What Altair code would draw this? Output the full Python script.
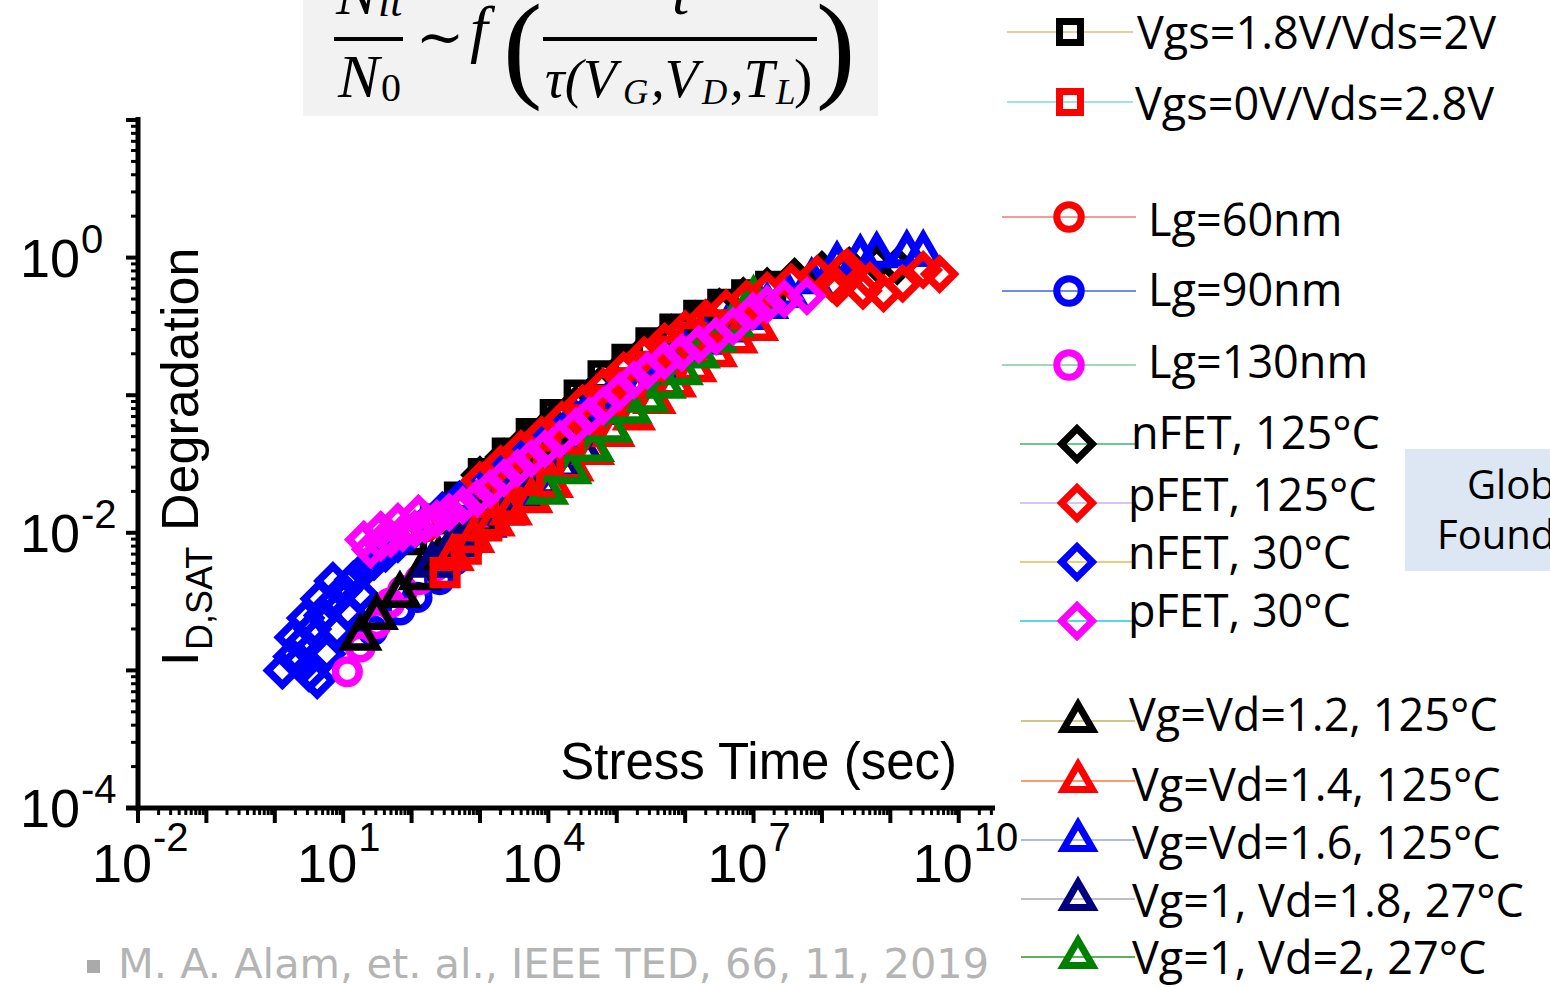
import altair as alt
import pandas as pd

# ---------------- data ----------------
# Stress time (s) and I_D,SAT degradation for every series
lg60_x = [39.8, 79.4, 158, 316, 631, 1260, 2510, 5010, 10000, 20000, 39800, 79400, 158000]
lg60_y = [0.00832, 0.00955, 0.0110, 0.0132, 0.0158, 0.0195, 0.0257, 0.0331, 0.0417, 0.0537, 0.0692, 0.0891, 0.117]

sqb_x = [100, 224, 501, 1120, 2510, 5620, 12600, 28200, 63100, 141000, 316000, 708000, 1580000, 3550000, 7940000, 17800000]
sqb_y = [0.00891, 0.0126, 0.0182, 0.0269, 0.0380, 0.0525, 0.0724, 0.100, 0.138, 0.182, 0.240, 0.302, 0.380, 0.457, 0.537, 0.617]

nfet125_x = [1000, 2240, 5010, 11200, 25100, 56200, 126000, 282000, 631000, 1410000, 3160000, 7080000,
             15800000, 39800000, 1.0e8, 2.51e8, 6.31e8, 1.26e9]
nfet125_y = [0.0263, 0.0355, 0.0479, 0.0631, 0.0851, 0.117, 0.162, 0.219, 0.282, 0.355, 0.437, 0.525,
             0.617, 0.724, 0.813, 0.871, 0.912, 0.871]

tri16_x = [1000, 2000, 3980, 7940, 15800, 31600, 63100, 126000, 251000, 501000, 1.0e6, 2.0e6, 3.98e6,
           7.94e6, 1.58e7, 3.16e7, 7.08e7, 1.66e8, 3.63e8, 6.31e8, 1.74e9, 3.02e9]
tri16_y = [0.0158, 0.0209, 0.0275, 0.0363, 0.0479, 0.0631, 0.0813, 0.105, 0.135, 0.170, 0.214, 0.263, 0.324,
           0.398, 0.479, 0.575, 0.724, 0.955, 1.07, 1.12, 1.15, 1.15]

nfet30_x = [1.29, 1.78, 2.51, 3.55, 5.01, 7.08, 10.0, 14.1, 20.0, 28.2, 41.7, 63.1, 100, 166, 282, 501, 891,
            1580, 3020, 6030, 12000, 25100, 50100, 100000, 200000, 398000,
            2.34, 3.16, 4.17, 5.75, 8.13, 11.5, 17.8, 1.86, 2.82, 4.47, 7.08]
nfet30_y = [0.00100, 0.00126, 0.00158, 0.00200, 0.00251, 0.00309, 0.00380, 0.00457, 0.00537, 0.00617, 0.00708,
            0.00832, 0.0100, 0.0120, 0.0145, 0.0174, 0.0214, 0.0263, 0.0331, 0.0417, 0.0525, 0.0676, 0.0871,
            0.107, 0.132, 0.158,
            0.00117, 0.000955, 0.000851, 0.00132, 0.00195, 0.00263, 0.00355, 0.00174, 0.00240, 0.00331, 0.00447]

lg90_x = [26.9, 67.6, 120, 257, 427, 794, 1580, 3160, 6310, 12600, 25100, 50100, 100000]
lg90_y = [0.00195, 0.00275, 0.00339, 0.00457, 0.00631, 0.00871, 0.0126, 0.0178, 0.0251, 0.0355, 0.0501, 0.0676, 0.0891]

lg130_x = [11.5, 17.8, 30.9, 47.9, 74.1, 132, 224, 398, 708, 1260]
lg130_y = [0.000977, 0.00148, 0.00219, 0.00309, 0.00380, 0.00457, 0.00575, 0.00759, 0.0100, 0.0132]

tri12_x = [17.8, 30.9, 67.6, 132, 251, 501, 1000, 2000, 3980, 7940, 15800, 31600]
tri12_y = [0.00186, 0.00263, 0.00380, 0.00513, 0.00692, 0.00933, 0.0129, 0.0178, 0.0245, 0.0331, 0.0447, 0.0603]

tri18_x = [200, 407, 708, 1200, 2240, 4170, 7940, 15800, 31600]
tri18_y = [0.00631, 0.00891, 0.0105, 0.0123, 0.0151, 0.0191, 0.0245, 0.0324, 0.0427]

tri14_x = [398, 794, 1580, 2820, 5620, 11200, 22400, 44700, 89100, 178000, 355000, 708000, 1410000,
           2820000, 5620000, 11200000]
tri14_y = [0.00708, 0.00955, 0.0126, 0.0151, 0.0186, 0.0240, 0.0316, 0.0417, 0.0562, 0.0741, 0.0977, 0.129,
           0.166, 0.214, 0.269, 0.331]

tri2_x = [9550, 20900, 44700, 83200, 158000, 282000, 501000, 891000, 1580000, 2820000, 5010000, 10000000]
tri2_y = [0.0214, 0.0302, 0.0437, 0.0603, 0.0832, 0.100, 0.126, 0.158, 0.209, 0.275, 0.355, 0.537]

sqr_x = [309, 631, 1260, 2510, 5010, 10000, 20000, 39800, 79400, 158000, 316000, 631000, 1260000, 2510000]
sqr_y = [0.00513, 0.00759, 0.0112, 0.0166, 0.0240, 0.0339, 0.0479, 0.0661, 0.0912, 0.123, 0.162, 0.209, 0.263, 0.324]

pfet125_x = [1000, 2000, 3980, 7940, 15800, 31600, 63100, 126000, 251000, 501000, 1.0e6, 2.0e6, 3.98e6,
             7.94e6, 1.58e7, 3.55e7, 8.51e7, 1.41e8, 1.66e8, 2.04e8, 2.34e8, 3.98e8, 5.01e8, 7.94e8,
             1.51e9, 3.02e9, 5.25e9]
pfet125_y = [0.0240, 0.0316, 0.0407, 0.0513, 0.0661, 0.0871, 0.115, 0.151, 0.195, 0.245, 0.302, 0.363, 0.427,
             0.501, 0.575, 0.661, 0.759, 0.646, 0.603, 0.813, 0.851, 0.575, 0.676, 0.550,
             0.646, 0.813, 0.759]

pfet30_x = [25.1, 35.5, 50.1, 74.1, 112, 158, 234, 355, 562, 912, 1410, 2240, 3550, 5620, 8910, 14800,
            25100, 39800, 63100, 112000, 178000, 282000, 501000, 891000, 1580000, 2820000, 5010000,
            9770000, 15800000, 28200000, 60300000, 20.0, 35.5, 63.1, 126]
pfet30_y = [0.00759, 0.00851, 0.00912, 0.0100, 0.0107, 0.0115, 0.0126, 0.0141, 0.0158, 0.0178, 0.0209, 0.0251,
            0.0295, 0.0347, 0.0407, 0.0479, 0.0589, 0.0708, 0.0832, 0.107, 0.129, 0.151, 0.178, 0.204,
            0.234, 0.269, 0.316, 0.407, 0.457, 0.501, 0.525, 0.00891, 0.0105, 0.0120, 0.0138]

# legend labels
labels = ["Vgs=1.8V/Vds=2V", "Vgs=0V/Vds=2.8V", "Lg=60nm", "Lg=90nm", "Lg=130nm",
          "nFET, 125°C", "pFET, 125°C", "nFET, 30°C", "pFET, 30°C",
          "Vg=Vd=1.2, 125°C", "Vg=Vd=1.4, 125°C", "Vg=Vd=1.6, 125°C",
          "Vg=1, Vd=1.8, 27°C", "Vg=1, Vd=2, 27°C"]

# axis tick values / labels
x_label_vals = [1e-2, 1e1, 1e4, 1e7, 1e10]
x_label_exps = ["-2", "1", "4", "7", "10"]
y_label_vals = [1e0, 1e-2, 1e-4]
y_label_exps = ["0", "-2", "-4"]
x_major = [10.0 ** n for n in range(-2, 11)]
x_minor = [k * 10.0 ** n for n in range(-2, 11) for k in range(2, 10) if k * 10.0 ** n < 3.3e10]
y_major = [10.0 ** n for n in range(-4, 2)]
y_minor = [k * 10.0 ** n for n in range(-4, 1) for k in range(2, 10)]

# ---------------- layout ----------------
OX, OY = 138, 120          # plot origin on the page
W, H = 857, 688
XMAX = 3.39e10

xscale = alt.Scale(type="log", domain=[0.01, XMAX], nice=False)
yscale = alt.Scale(type="log", domain=[1e-4, 10], nice=False)
one = pd.DataFrame({"k": [0]})

layers = []

def txt(s, x, y, size, font="Open Sans", color="black", align="left", baseline="middle",
        angle=0, style="normal"):
    return alt.Chart(one).mark_text(text=s, align=align, baseline=baseline, fontSize=size, font=font,
                                    color=color, angle=angle, fontStyle=style).encode(
        x=alt.value(x - OX), y=alt.value(y - OY))

def hrule(x1, x2, y, color, width):
    return alt.Chart(one).mark_rule(color=color, strokeWidth=width).encode(
        x=alt.value(x1 - OX), x2=alt.value(x2 - OX), y=alt.value(y - OY))

def box(x1, x2, y1, y2, color):
    return alt.Chart(one).mark_rect(color=color).encode(
        x=alt.value(x1 - OX), x2=alt.value(x2 - OX), y=alt.value(y1 - OY), y2=alt.value(y2 - OY))

# formula box (top)
layers.append(box(303, 878, -10, 116, "#f2f2f2"))
SER = "Liberation Serif"
layers += [
    txt("N", 336, 14, 62, SER, baseline="alphabetic", style="italic"),
    txt("it", 378, 16, 44, SER, baseline="alphabetic", style="italic"),
    hrule(334, 403, 39, "black", 4),
    txt("N", 338, 97, 62, SER, baseline="alphabetic", style="italic"),
    txt("0", 381, 101, 40, SER, baseline="alphabetic"),
    txt("~", 440, 40, 58, "DejaVu Serif", align="center"),
    txt("f", 470, 50, 64, SER, baseline="alphabetic", style="italic"),
    txt("(", 503, 86, 118, SER, baseline="alphabetic"),
    txt(")", 816, 86, 118, SER, baseline="alphabetic"),
    txt("t", 672, 14, 62, SER, baseline="alphabetic", style="italic"),
    hrule(543, 817, 39, "black", 4),
    txt("τ(V", 545, 97, 55, SER, baseline="alphabetic", style="italic"),
    txt("G", 623, 104, 35, SER, baseline="alphabetic", style="italic"),
    txt(",V", 651, 97, 55, SER, baseline="alphabetic", style="italic"),
    txt("D", 702, 104, 35, SER, baseline="alphabetic", style="italic"),
    txt(",T", 730, 97, 55, SER, baseline="alphabetic", style="italic"),
    txt("L", 776, 104, 35, SER, baseline="alphabetic", style="italic"),
    txt(")", 794, 97, 55, SER, baseline="alphabetic"),
]

# axis ticks
def tick_layer(vals, axis, length, width):
    df = pd.DataFrame({"v": vals})
    if axis == "y":
        return alt.Chart(df).mark_rule(color="black", strokeWidth=width).encode(
            y=alt.Y("v:Q", scale=yscale, axis=None), x=alt.value(-length), x2=alt.value(0))
    return alt.Chart(df).mark_rule(color="black", strokeWidth=width).encode(
        x=alt.X("v:Q", scale=xscale, axis=None), y=alt.value(H), y2=alt.value(H + length))

layers += [tick_layer(y_major, "y", 12, 4), tick_layer(y_minor, "y", 7, 3),
           tick_layer(x_major, "x", 15, 4), tick_layer(x_minor, "x", 7, 3)]
# axis lines
layers.append(alt.Chart(one).mark_rule(color="black", strokeWidth=5).encode(
    x=alt.value(0), y=alt.value(-3), y2=alt.value(H + 3)))
layers.append(alt.Chart(one).mark_rule(color="black", strokeWidth=5).encode(
    x=alt.value(-12), x2=alt.value(W), y=alt.value(H)))

# tick labels 10^n
AX = "Liberation Sans"
xl = pd.DataFrame({"v": x_label_vals, "e": x_label_exps})
yl = pd.DataFrame({"v": y_label_vals, "e": y_label_exps})
layers.append(alt.Chart(xl).mark_text(text="10", align="right", baseline="middle", dx=14, fontSize=54,
                                      font=AX).encode(x=alt.X("v:Q", scale=xscale, axis=None),
                                                      y=alt.value(866 - OY)))
layers.append(alt.Chart(xl).mark_text(align="left", baseline="middle", dx=15, fontSize=40,
                                      font=AX).encode(x=alt.X("v:Q", scale=xscale, axis=None),
                                                      y=alt.value(839 - OY), text="e:N"))
layers.append(alt.Chart(yl).mark_text(text="10", align="right", baseline="middle", dy=3, fontSize=54,
                                      font=AX).encode(y=alt.Y("v:Q", scale=yscale, axis=None),
                                                      x=alt.value(80 - OX)))
layers.append(alt.Chart(yl).mark_text(align="left", baseline="middle", dy=-17, fontSize=40,
                                      font=AX).encode(y=alt.Y("v:Q", scale=yscale, axis=None),
                                                      x=alt.value(81 - OX), text="e:N"))

# axis titles
layers += [
    txt("I", 198, 666, 52, AX, baseline="alphabetic", angle=270),
    txt("D,SAT", 212, 650, 36, AX, baseline="alphabetic", angle=270),
    txt("Degradation", 198, 531, 52, AX, baseline="alphabetic", angle=270),
    txt("Stress Time (sec)", 957, 779, 51, AX, align="right", baseline="alphabetic"),
]

# data series
series = [
    ("Lg=60nm", lg60_x, lg60_y, "circle", "#ff0000", 560),
    ("Vgs=1.8V/Vds=2V", sqb_x, sqb_y, "square", "#000000", 560),
    ("nFET, 125°C", nfet125_x, nfet125_y, "diamond", "#000000", 850),
    ("Vg=Vd=1.6, 125°C", tri16_x, tri16_y, "triangle-up", "#0000ff", 1000),
    ("nFET, 30°C", nfet30_x, nfet30_y, "diamond", "#0000ff", 850),
    ("Lg=90nm", lg90_x, lg90_y, "circle", "#0000ff", 560),
    ("Lg=130nm", lg130_x, lg130_y, "circle", "#ff00ff", 560),
    ("Vg=Vd=1.2, 125°C", tri12_x, tri12_y, "triangle-up", "#000000", 1000),
    ("Vg=1, Vd=1.8, 27°C", tri18_x, tri18_y, "triangle-up", "#000080", 1000),
    ("Vg=Vd=1.4, 125°C", tri14_x, tri14_y, "triangle-up", "#ff0000", 1000),
    ("Vg=1, Vd=2, 27°C", tri2_x, tri2_y, "triangle-up", "#008000", 1000),
    ("Vgs=0V/Vds=2.8V", sqr_x, sqr_y, "square", "#ff0000", 560),
    ("pFET, 125°C", pfet125_x, pfet125_y, "diamond", "#ff0000", 850),
    ("pFET, 30°C", pfet30_x, pfet30_y, "diamond", "#ff00ff", 850),
]
for name, xs, ys, shape, color, size in series:
    df = pd.DataFrame({"t": xs, "d": ys, "series": name})
    layers.append(alt.Chart(df).mark_point(shape=shape, filled=False, size=size, strokeWidth=7.5,
                                           color=color, opacity=1).encode(
        x=alt.X("t:Q", scale=xscale, axis=None), y=alt.Y("d:Q", scale=yscale, axis=None)))

# custom legend on the right
style = {name: (shape, color) for name, _, _, shape, color, _ in series}
leg_layout = [  # line x1, x2, line colour, marker x, marker y, marker size, text x, text y
    (1007, 1133, "#dcc07a", 1070, 32, 440, 1137, 35),
    (1007, 1133, "#7adcdc", 1070, 102, 440, 1135, 106),
    (1002, 1136, "#f07878", 1069, 217, 600, 1148, 222),
    (1002, 1136, "#3a66e0", 1069, 291, 600, 1148, 292),
    (1002, 1136, "#80c8a0", 1069, 365, 600, 1148, 364),
    (1020, 1135, "#3cb46e", 1077, 444, 950, 1131, 435),
    (1020, 1135, "#cdb0ea", 1077, 503, 950, 1128, 497),
    (1020, 1135, "#e8b850", 1077, 562, 950, 1128, 555),
    (1020, 1135, "#22cdd8", 1077, 621, 950, 1128, 613),
    (1021, 1135, "#bcb65a", 1078, 717, 850, 1129, 717),
    (1021, 1135, "#ff7a3c", 1078, 777, 850, 1132, 787),
    (1021, 1135, "#8aaae0", 1078, 836, 850, 1132, 845),
    (1021, 1135, "#a8a8a8", 1078, 895, 850, 1132, 903),
    (1021, 1135, "#2a962a", 1078, 953, 850, 1132, 960),
]
for lab, (x1, x2, lc, mx, my, ms, tx, ty) in zip(labels, leg_layout):
    shape, color = style[lab]
    ly = my + (4 if shape == "triangle-up" else 0)
    layers.append(hrule(x1, x2, ly, lc, 1.5))
    layers.append(alt.Chart(one).mark_point(shape=shape, filled=False, size=ms, strokeWidth=7,
                                            color=color, opacity=1).encode(
        x=alt.value(mx - OX), y=alt.value(my - OY)))
    layers.append(txt(lab, tx, ty, 45))

# GlobalFoundries box
layers.append(box(1405, 1560, 449, 571, "#dde7f3"))
layers.append(txt("Global", 1467, 487, 40))
layers.append(txt("Foundries", 1437, 537, 40))

# citation
layers.append(box(87, 100, 960, 973, "#aaaaaa"))
layers.append(txt("M. A. Alam, et. al.,  IEEE TED, 66, 11, 2019", 118, 966, 41.5, font="DejaVu Sans",
                  color="#b4b4b4"))

chart = alt.layer(*layers).properties(
    width=W, height=H,
    padding={"left": OX, "top": OY, "right": 1550 - OX - W, "bottom": 985 - OY - H},
    autosize=alt.AutoSizeParams(type="none"),
    background="white",
).configure_view(stroke=None)

chart.save("out.html", embed_options={"renderer": "svg", "actions": False})
